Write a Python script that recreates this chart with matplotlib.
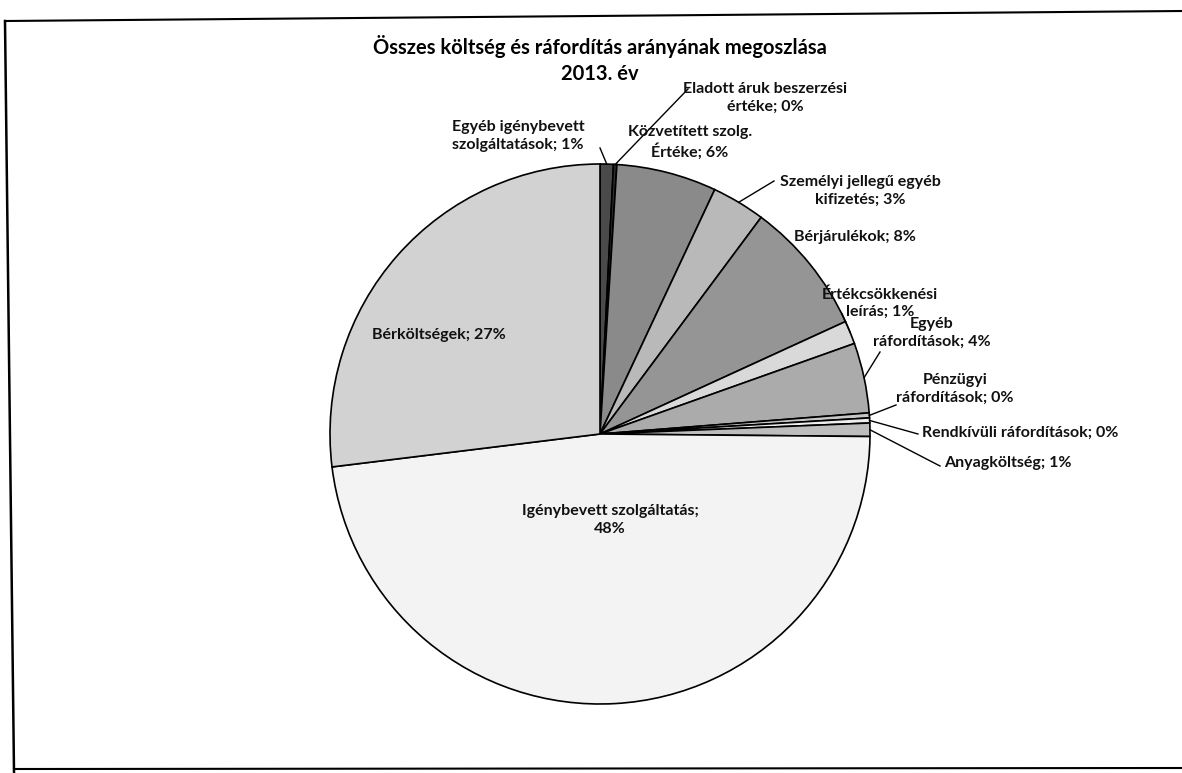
import numpy as np
import matplotlib
matplotlib.use("Agg")
import matplotlib.pyplot as plt

plt.rcParams['font.family'] = ['Lato', 'DejaVu Sans']

# slice values (share in %), clockwise from 12 o'clock
names = ["Egyéb igénybevett\nszolgáltatások", "Eladott áruk beszerzési\nértéke",
         "Közvetített szolg.\nÉrtéke", "Személyi jellegű egyéb\nkifizetés",
         "Bérjárulékok", "Értékcsökkenési\nleírás", "Egyéb\nráfordítások",
         "Pénzügyi\nráfordítások", "Rendkívüli ráfordítások", "Anyagköltség",
         "Igénybevett szolgáltatás", "Bérköltségek"]
values = [0.8, 0.2, 6.0, 3.2, 8.0, 1.4, 4.2, 0.3, 0.3, 0.8, 48.0, 27.0]
colors = ['#4a4a4a', '#2e2e2e', '#8a8a8a', '#b9b9b9', '#959595', '#d9d9d9',
          '#ababab', '#c6c6c6', '#efefef', '#bdbdbd', '#f3f3f3', '#d2d2d2']
# label break between name and percentage (only the big slice wraps)
seps = ["; "] * 10 + [";\n", "; "]

W, H = 1182, 773
cx, cy, r = 600, 434, 270

# label centres (pixel, y down) and leader anchor near the text (None = no leader)
label_pos = [(518, 136), (765, 98), (690, 142), (860, 191), (855, 237), (880, 303),
             (932, 333), (955, 389), (1020, 433), (1008, 463), (610, 520), (439, 335)]
leader_end = [(600, 148), (688, 89), None, (774, 181), None, (842, 314),
              (880, 352), (896, 405), (918, 434), (940, 466), None, None]

fig = plt.figure(figsize=(W / 100, H / 100), dpi=100)
ax = fig.add_axes([0, 0, 1, 1])
ax.axis('off')

wedges, _ = ax.pie(values, colors=colors, startangle=90, counterclock=False,
                   center=(cx, H - cy), radius=r, normalize=True,
                   wedgeprops=dict(edgecolor='black', linewidth=1.2))
ax.set_xlim(0, W)
ax.set_ylim(0, H)
ax.set_aspect('equal')

total = sum(values)
for i, w in enumerate(wedges):
    pct = round(values[i] / total * 100)
    tx, ty = label_pos[i]
    ax.text(tx, H - ty, f"{names[i]}{seps[i]}{pct}%", ha='center', va='center',
            fontsize=11.5, fontweight='bold', color='#111111', linespacing=1.3)
    if leader_end[i] is not None:
        mid = np.deg2rad((w.theta1 + w.theta2) / 2)
        ex, ey = cx + r * np.cos(mid), (H - cy) + r * np.sin(mid)
        lx, ly = leader_end[i]
        ax.plot([ex, lx], [ey, H - ly], color='black', lw=1.0)

ax.text(600, H - 46, "Összes költség és ráfordítás arányának megoszlása",
        ha='center', va='center', fontsize=14.5, fontweight='bold')
ax.text(600, H - 74, "2013. év", ha='center', va='center', fontsize=14.5, fontweight='bold')

# scanned chart frame
ax.plot([5, W], [H - 21, H - 11], color='black', lw=1.5, clip_on=False)
ax.plot([5, 14], [H - 21, H - 772], color='black', lw=1.8, clip_on=False)
ax.plot([14, W], [H - 769, H - 768], color='black', lw=1.5, clip_on=False)

fig.savefig("out.png", dpi=100, facecolor='white')
